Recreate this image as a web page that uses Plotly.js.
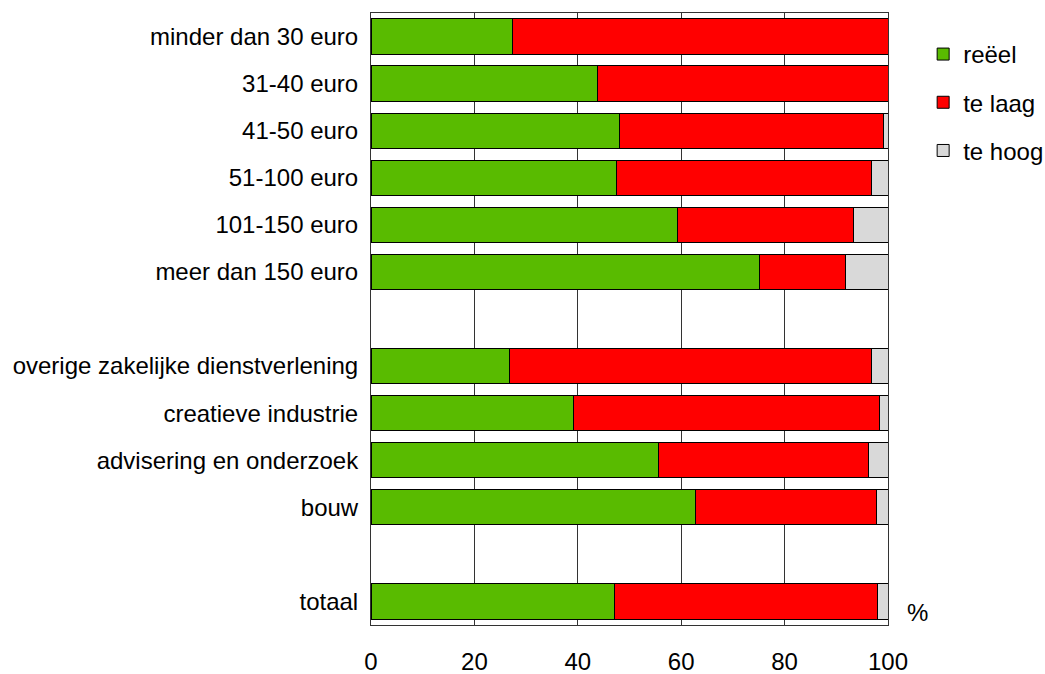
<!DOCTYPE html>
<html>
<head>
<meta charset="utf-8">
<script src="https://cdn.plot.ly/plotly-3.0.1.min.js"></script>
<style>html,body{margin:0;padding:0;background:#fff;}#chart{width:1045px;height:674px;}</style>
</head>
<body>
<div id="chart"></div>
<script>
const categories = [
  "minder dan 30 euro", "31-40 euro", "41-50 euro", "51-100 euro", "101-150 euro", "meer dan 150 euro",
  " ",
  "overige zakelijke dienstverlening", "creatieve industrie", "advisering en onderzoek", "bouw",
  "  ",
  "totaal"
];
const reeel   = [27.4, 43.9, 48.0, 47.5, 59.2, 75.2, null, 26.7, 39.1, 55.7, 62.7, null, 47.1];
const teLaag  = [72.6, 56.1, 51.1, 49.4, 34.1, 16.5, null, 70.2, 59.2, 40.5, 35.1, null, 50.9];
const teHoog  = [0.0,  0.0,  0.9,  3.1,  6.7,  8.3,  null, 3.1,  1.7,  3.8,  2.2,  null, 2.0];
const xTicks = [0, 20, 40, 60, 80, 100];
const seriesNames = ["reëel", "te laag", "te hoog"];
const colors = ["#59bb00", "#ff0000", "#d9d9d9"];

const FONT = "Liberation Sans, Arial, sans-serif";
const FS = 24;

const series = [reeel, teLaag, teHoog];
const traces = series.map((vals, i) => ({
  type: "bar",
  orientation: "h",
  name: seriesNames[i],
  y: categories,
  x: vals,
  legendgroup: "g" + i,
  marker: { color: colors[i], line: { color: "#000000", width: 1 } },
  hoverinfo: "x+y+name"
}));

const layout = {
  width: 1045,
  height: 674,
  margin: { l: 371, r: 157, t: 13, b: 49, pad: 0, autoexpand: false },
  paper_bgcolor: "#ffffff",
  plot_bgcolor: "#ffffff",
  barmode: "stack",
  bargap: 0.25,
  font: { family: FONT, size: FS, color: "#000000" },
  showlegend: true,
  legend: {
    x: 1.068, xanchor: "left",
    y: 0.969, yanchor: "top",
    traceorder: "grouped",
    tracegroupgap: 14,
    font: { family: FONT, size: FS, color: "#000000" },
    bgcolor: "rgba(0,0,0,0)",
    borderwidth: 0,
    itemwidth: 30
  },
  xaxis: {
    range: [0, 100],
    tickvals: xTicks,
    ticktext: xTicks.map(String),
    showgrid: true,
    gridcolor: "#333333",
    gridwidth: 1,
    zeroline: false,
    showline: true,
    linecolor: "#333333",
    linewidth: 1,
    mirror: true,
    ticks: "",
    ticklabelstandoff: 15,
    fixedrange: true,
    tickfont: { family: FONT, size: FS, color: "#000000" }
  },
  yaxis: {
    type: "category",
    categoryorder: "array",
    categoryarray: categories,
    autorange: "reversed",
    showgrid: false,
    zeroline: false,
    showline: true,
    linecolor: "#333333",
    linewidth: 1,
    mirror: true,
    ticks: "",
    ticklabelstandoff: 7,
    fixedrange: true,
    tickfont: { family: FONT, size: FS, color: "#000000" }
  },
  annotations: [{
    xref: "paper", yref: "paper",
    x: 1.058, y: 0.02,
    xanchor: "center", yanchor: "middle",
    text: "%",
    showarrow: false,
    font: { family: FONT, size: FS, color: "#000000" }
  }]
};

Plotly.newPlot("chart", traces, layout, { displayModeBar: false, staticPlot: false });
</script>
</body>
</html>
